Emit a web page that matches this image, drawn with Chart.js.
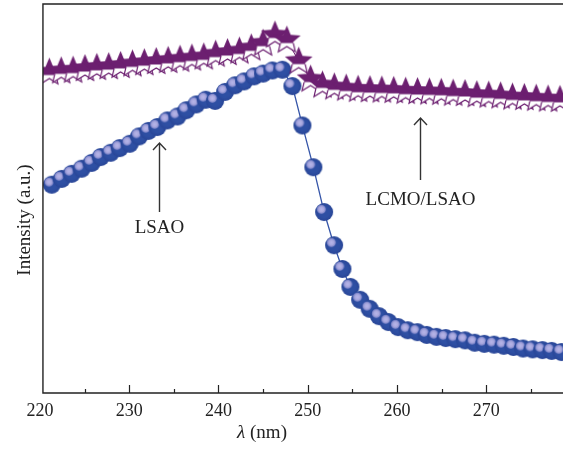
<!DOCTYPE html>
<html>
<head>
<meta charset="utf-8">
<script src="https://cdn.jsdelivr.net/npm/chart.js@4.4.0/dist/chart.umd.min.js"></script>
<style>
    html, body { margin: 0; padding: 0; background: #fff; overflow: hidden; }
</style>
</head>
<body>
<canvas id="myChart" width="563" height="459"></canvas>
<script>
// Dades LSAO (boles blaves): longitud d'ona (nm) i intensitat (u.a.)
const lsaoX = [221.31, 222.43, 223.55, 224.67, 225.79, 226.80, 227.92, 228.93, 230.05, 231.10,
    232.15, 233.15, 234.27, 235.40, 236.40, 237.52, 238.57, 239.62, 240.74, 241.86,
    242.87, 243.99, 245.00, 246.04, 247.16, 248.28, 249.40, 250.63, 251.83, 252.95,
    253.88, 254.78, 255.87, 256.94, 257.99, 259.04, 260.12, 261.20, 262.29, 263.33,
    264.42, 265.46, 266.54, 267.63, 268.71, 269.79, 270.88, 271.96, 273.04, 274.13,
    275.20, 276.29, 277.33, 278.43];
const lsaoY = [53.4, 54.9, 56.2, 57.5, 59.0, 60.5, 61.6, 62.8, 63.9, 65.8,
    67.2, 68.2, 69.9, 70.9, 72.5, 74.0, 75.2, 74.9, 77.2, 78.9,
    79.9, 81.2, 81.9, 82.7, 82.9, 78.7, 68.6, 57.9, 46.4, 37.9,
    31.8, 27.2, 23.9, 21.6, 19.7, 18.2, 16.9, 16.1, 15.6, 14.9,
    14.4, 14.1, 13.8, 13.5, 12.9, 12.6, 12.4, 12.1, 11.8, 11.4,
    11.2, 11.0, 10.8, 10.5];

// Dades LCMO/LSAO (estrelles liles)
const lcmoX = [221.05, 222.38, 223.71, 225.04, 226.37, 227.70, 229.03, 230.36, 231.69, 233.02,
    234.36, 235.69, 237.02, 238.35, 239.68, 241.01, 242.34, 243.67, 245.00, 246.33,
    247.66, 248.99, 250.32, 251.65, 252.98, 254.31, 255.64, 256.97, 258.30, 259.63,
    260.97, 262.30, 263.63, 264.96, 266.29, 267.62, 268.95, 270.28, 271.61, 272.94,
    274.27, 275.60, 276.93, 278.26];
const lcmoY = [82.3, 82.6, 82.8, 83.2, 83.5, 83.7, 84.0, 84.4, 84.7, 85.0,
    85.3, 85.6, 85.9, 86.2, 86.9, 87.3, 87.7, 88.5, 89.7, 91.8,
    90.5, 85.1, 80.5, 79.0, 78.5, 78.2, 77.9, 77.8, 77.7, 77.6,
    77.4, 77.3, 77.2, 77.1, 76.9, 76.8, 76.5, 76.4, 76.2, 75.9,
    75.8, 75.6, 75.4, 75.3];

// Marques de l'eix x
const xTicks = [220, 225, 230, 235, 240, 245, 250, 255, 260, 265, 270, 275];
const xTickLabels = [220, 230, 240, 250, 260, 270];

// Anotacions (en coordenades de dades)
const lsaoNote = { text: 'LSAO', x: 233.3, arrowFrom: 46.4, arrowTo: 64.1, textY: 41.0 };
const lcmoNote = { text: 'LCMO/LSAO', x: 262.6, arrowFrom: 54.6, arrowTo: 70.5, textY: 48.2 };
const frameLeft = 220.33;

const blue = '#2e4fa3';
const purple = '#6c1f70';
const ink = '#222';
const serif = "'Liberation Serif', 'DejaVu Serif', serif";
// retallem les marques a la vora esquerra del marc
const clipLeft = { left: -3, top: false, right: false, bottom: false };

// bola blava amb reflex
const makeBall = (r) => {
    const c = document.createElement('canvas');
    const s = Math.ceil(2 * r + 2);
    c.width = s;
    c.height = s;
    const ctx = c.getContext('2d');
    const cx = s / 2, cy = s / 2;
    ctx.beginPath();
    ctx.arc(cx, cy, r, 0, Math.PI * 2);
    ctx.fillStyle = blue;
    ctx.fill();
    let g = ctx.createRadialGradient(cx, cy, r * 0.6, cx, cy, r);
    g.addColorStop(0, 'rgba(20,30,100,0)');
    g.addColorStop(1, 'rgba(20,30,100,0.2)');
    ctx.fillStyle = g;
    ctx.fill();
    const hx = cx - r * 0.3, hy = cy - r * 0.3;
    g = ctx.createRadialGradient(hx, hy, 0, hx, hy, r * 0.58);
    g.addColorStop(0, '#b8b6ea');
    g.addColorStop(0.5, '#a8a7dd');
    g.addColorStop(0.78, '#7e86ca');
    g.addColorStop(1, 'rgba(46,79,163,0)');
    ctx.beginPath();
    ctx.arc(hx, hy, r * 0.58, 0, Math.PI * 2);
    ctx.fillStyle = g;
    ctx.fill();
    return c;
};

// estrella de cinc puntes, part de dalt plena i potes buides
const makeStar = (R) => {
    const c = document.createElement('canvas');
    const s = Math.ceil(2 * R + 4);
    c.width = s;
    c.height = s;
    const ctx = c.getContext('2d');
    const cx = s / 2, cy = s / 2;
    const r = R * 0.45;
    const path = new Path2D();
    for (let i = 0; i < 10; i++) {
        const a = -Math.PI / 2 + i * Math.PI / 5;
        const rad = i % 2 === 0 ? R : r;
        const px = cx + rad * Math.cos(a);
        const py = cy + rad * Math.sin(a);
        if (i === 0) path.moveTo(px, py); else path.lineTo(px, py);
    }
    path.closePath();
    ctx.fillStyle = purple;
    ctx.fill(path);
    ctx.save();
    ctx.beginPath();
    ctx.rect(0, cy + 3, s, s);
    ctx.clip();
    ctx.fillStyle = '#fff';
    ctx.fill(path);
    ctx.lineWidth = 1.2;
    ctx.strokeStyle = purple;
    ctx.stroke(path);
    ctx.restore();
    return c;
};

// marc, marques cap endins, títols i fletxes
const decorPlugin = {
    id: 'decor',
    afterDraw: (chart) => {
        const { ctx, chartArea: a, scales: { x, y } } = chart;
        const left = x.getPixelForValue(frameLeft);
        ctx.save();
        ctx.strokeStyle = ink;
        ctx.lineWidth = 1.4;
        ctx.beginPath();
        ctx.moveTo(a.right, a.top + 1);
        ctx.lineTo(left, a.top + 1);
        ctx.lineTo(left, a.bottom);
        ctx.lineTo(a.right, a.bottom);
        ctx.stroke();

        ctx.lineWidth = 1.2;
        xTicks.forEach((v) => {
            const px = Math.round(x.getPixelForValue(v)) + 0.5;
            if (px < left + 2) return;
            const len = xTickLabels.includes(v) ? 8 : 4;
            ctx.beginPath();
            ctx.moveTo(px, a.bottom);
            ctx.lineTo(px, a.bottom - len);
            ctx.stroke();
        });

        // títol eix x: lambda en cursiva
        ctx.fillStyle = ink;
        ctx.textBaseline = 'alphabetic';
        ctx.textAlign = 'left';
        const italic = 'italic 19px ' + serif;
        const normal = '19px ' + serif;
        ctx.font = italic;
        const w1 = ctx.measureText('λ').width;
        ctx.font = normal;
        const w2 = ctx.measureText(' (nm)').width;
        const tx = 262 - (w1 + w2) / 2;
        ctx.font = italic;
        ctx.fillText('λ', tx, 438);
        ctx.font = normal;
        ctx.fillText(' (nm)', tx + w1, 438);

        // títol eix y
        ctx.save();
        ctx.translate(30, 220);
        ctx.rotate(-Math.PI / 2);
        ctx.textAlign = 'center';
        ctx.fillText('Intensity (a.u.)', 0, 0);
        ctx.restore();

        // fletxes i etiquetes
        [lsaoNote, lcmoNote].forEach((n) => {
            const px = Math.round(x.getPixelForValue(n.x)) + 0.5;
            const y0 = y.getPixelForValue(n.arrowFrom);
            const y1 = y.getPixelForValue(n.arrowTo);
            ctx.strokeStyle = '#333';
            ctx.lineWidth = 1.4;
            ctx.beginPath();
            ctx.moveTo(px, y0);
            ctx.lineTo(px, y1);
            ctx.moveTo(px - 6.5, y1 + 7);
            ctx.lineTo(px, y1);
            ctx.lineTo(px + 6.5, y1 + 7);
            ctx.stroke();
            ctx.textAlign = 'center';
            ctx.font = normal;
            ctx.fillText(n.text, px, y.getPixelForValue(n.textY));
        });
        ctx.restore();
    }
};

const myChart = () => {
    const ctx = document.getElementById('myChart').getContext('2d');
    new Chart(ctx, {
        type: 'line',
        data: {
            datasets: [{
                label: 'LCMO/LSAO',
                data: lcmoX.map((v, i) => ({ x: v, y: lcmoY[i] })),
                borderColor: purple,
                borderWidth: 1,
                pointStyle: makeStar(14.5),
                pointRadius: 14,
                clip: clipLeft
            }, {
                label: 'LSAO',
                data: lsaoX.map((v, i) => ({ x: v, y: lsaoY[i] })),
                borderColor: '#3555a8',
                borderWidth: 1.3,
                pointStyle: makeBall(9),
                pointRadius: 9,
                clip: clipLeft
            }]
        },
        options: {
            responsive: false,
            animation: false,
            layout: { autoPadding: false, padding: { left: 40, top: 3, right: 0, bottom: 0 } },
            plugins: { legend: { display: false }, tooltip: { enabled: false } },
            scales: {
                x: {
                    type: 'linear',
                    min: 220,
                    max: 278.6,
                    afterBuildTicks: (scale) => {
                        scale.ticks = xTicks.map((v) => ({ value: v }));
                    },
                    afterFit: (scale) => { scale.height = 66; },
                    grid: { display: false, drawTicks: false },
                    border: { display: false },
                    ticks: {
                        autoSkip: false,
                        maxRotation: 0,
                        padding: 7,
                        color: ink,
                        font: { family: serif, size: 18 },
                        callback: (v) => xTickLabels.includes(v) ? String(v) : ''
                    }
                },
                y: {
                    display: false,
                    min: 0,
                    max: 100
                }
            }
        },
        plugins: [decorPlugin]
    });
};

myChart();
</script>
</body>
</html>
